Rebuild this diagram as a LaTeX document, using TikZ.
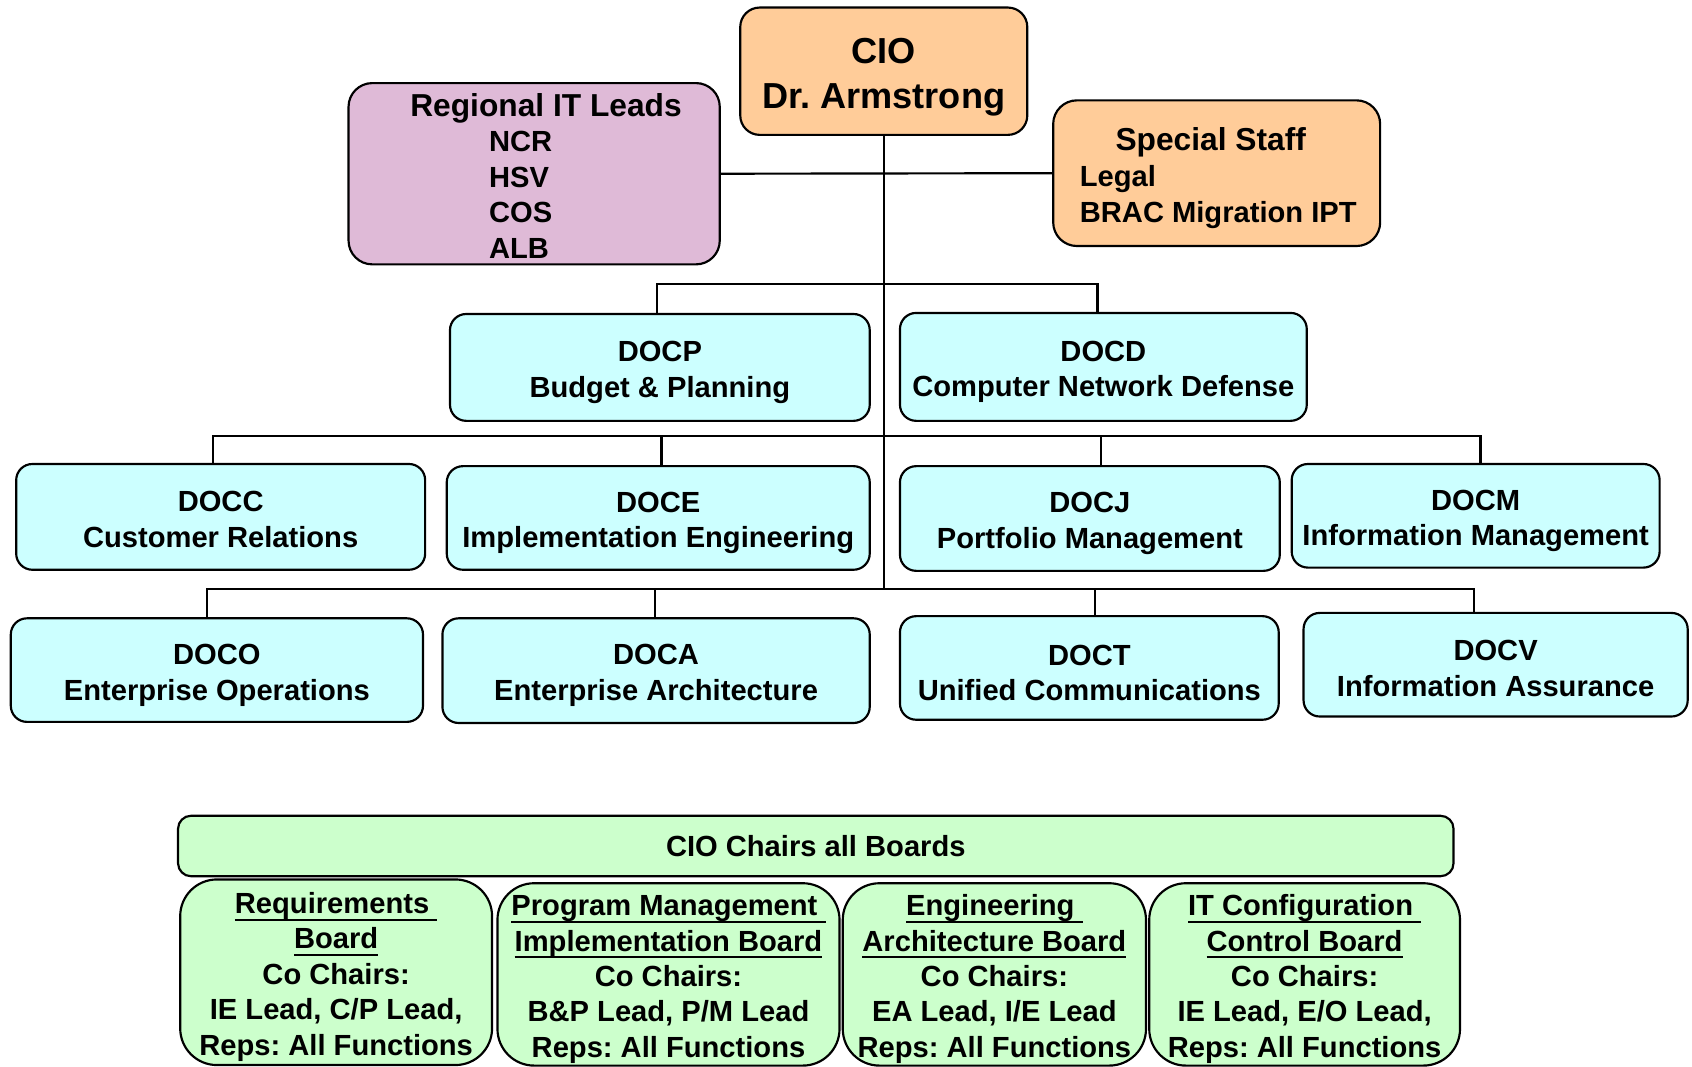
\documentclass[tikz,border=0pt]{standalone}
\usepackage{fontspec}
\setmainfont{Liberation Sans}
\definecolor{peach}{HTML}{FFCC99}
\definecolor{lav}{HTML}{DFBAD7}
\definecolor{cyanbox}{HTML}{CCFFFF}
\definecolor{greenbox}{HTML}{CCFFCC}
\newsavebox\myulbox
\newcommand\myul[1]{\sbox\myulbox{#1}\rlap{\rule[-3.4pt]{\wd\myulbox}{1.1pt}}\usebox\myulbox}
\newcommand\mystrut[1][14pt]{\rule{0pt}{#1}}
\begin{document}
\frenchspacing
\begin{tikzpicture}[x=0.5pt,y=-0.5pt,
  font=\bfseries\fontsize{13.5}{16.5}\selectfont\frenchspacing,
  box/.style={draw, line width=1pt, inner sep=0pt, align=center, rounded corners=7.5pt},
  bx/.style args={#1/#2}{minimum width=#1*0.5pt, minimum height=#2*0.5pt},
  doc/.style={box, fill=cyanbox},
  board/.style={box, fill=greenbox, rounded corners=17pt, font=\bfseries\fontsize{13.5}{16.4}\selectfont\frenchspacing},
  wire/.style={line width=1pt},
  txt/.style={inner sep=0pt, align=left}]
\useasboundingbox (0,0) rectangle (1568,988);
\clip (0,0) rectangle (1568,988);

% top level
\node[box, fill=peach, rounded corners=9pt, bx={266/118}, font=\bfseries\fontsize{16.75}{20.5}\selectfont\frenchspacing] (cio) at (819,66) {\mystrut[17.2pt]CIO\\Dr. Armstrong};

\node[box, fill=lav, rounded corners=11pt, bx={344/168}] (reg) at (495,161) {};
\node[txt] (regtxt) at (506,163) {{\fontsize{14.7}{16.5}\selectfont Regional IT Leads}\\\hspace*{36.5pt}NCR\\\hspace*{36.5pt}HSV\\\hspace*{36.5pt}COS\\\hspace*{36.5pt}ALB};

\node[box, fill=peach, rounded corners=11pt, bx={303/135}] (sps) at (1127.5,160.5) {};
\node[txt] (spstxt) at (1129,165) {{\fontsize{14.7}{16.5}\selectfont\hspace*{16.5pt}Special Staff}\\Legal\\BRAC Migration IPT};

% directorates
\node[doc, bx={389/99}] (docp) at (611.5,340.5) {\mystrut DOCP\\Budget \& Planning};
\node[doc, bx={377/100}] (docd) at (1022.5,340) {\mystrut DOCD\\Computer Network Defense};

\node[doc, bx={379/98}] (docc) at (204.5,479) {\mystrut[12pt]DOCC\\Customer Relations};
\node[doc, bx={392/96}] (doce) at (610,480) {\mystrut DOCE\\Implementation Engineering};
\node[doc, bx={352/97}] (docj) at (1010,480.5) {\mystrut DOCJ\\Portfolio Management};
\node[doc, bx={341/96}] (docm) at (1367.5,478) {\mystrut DOCM\\Information Management};

\node[doc, bx={382/96}] (doco) at (201,621) {\mystrut DOCO\\Enterprise Operations};
\node[doc, bx={396/97}] (doca) at (608,621.5) {\mystrut DOCA\\Enterprise Architecture};
\node[doc, bx={351/96}] (doct) at (1009.5,619) {\mystrut DOCT\\Unified Communications};
\node[doc, bx={356/96}] (docv) at (1386,616) {\mystrut[13pt]DOCV\\Information Assurance};

% connectors
\coordinate (b1) at (819,263);
\coordinate (b2) at (819,404);
\coordinate (b3) at (819,546);
\draw[wire] (cio.south) -- (b3);
\draw[wire] (reg.east) -- (sps.west);
\draw[wire] ([xshift=-1.25pt]docp.north) |- (b1);
\draw[wire] ([xshift=-2.75pt]docd.north) |- (b1);
\draw[wire] ([xshift=-3.75pt]docc.north) |- (b2);
\draw[wire] ([xshift=1.5pt]doce.north) |- (b2);
\draw[wire] ([xshift=5pt]docj.north) |- (b2);
\draw[wire] ([xshift=2.25pt]docm.north) |- (b2);
\draw[wire] ([xshift=-4.5pt]doco.north) |- (b3);
\draw[wire] ([xshift=-0.5pt]doca.north) |- (b3);
\draw[wire] ([xshift=2.75pt]doct.north) |- (b3);
\draw[wire] ([xshift=-10pt]docv.north) |- (b3);

% boards
\node[box, fill=greenbox, rounded corners=6pt, bx={1182/56}] (chairs) at (756,784) {CIO Chairs all Boards};
\node[board, bx={289/172}] (rb) at (311.5,901) {\mystrut\myul{Requirements\ }\\\myul{Board}\\Co Chairs:\\IE Lead, C/P Lead,\\Reps: All Functions};
\node[board, bx={317/169}] (pb) at (619.5,903) {\mystrut\myul{Program Management\ }\\\myul{Implementation Board}\\Co Chairs:\\B\&P Lead, P/M Lead\\Reps: All Functions};
\node[board, bx={281/169}] (eb) at (921.5,903) {\mystrut\myul{Engineering\ }\\\myul{Architecture Board}\\Co Chairs:\\EA Lead, I/E Lead\\Reps: All Functions};
\node[board, bx={288/169}] (cb) at (1209,903) {\mystrut\myul{IT Configuration\ }\\\myul{Control Board}\\Co Chairs:\\IE Lead, E/O Lead,\\Reps: All Functions};
\end{tikzpicture}
\end{document}
